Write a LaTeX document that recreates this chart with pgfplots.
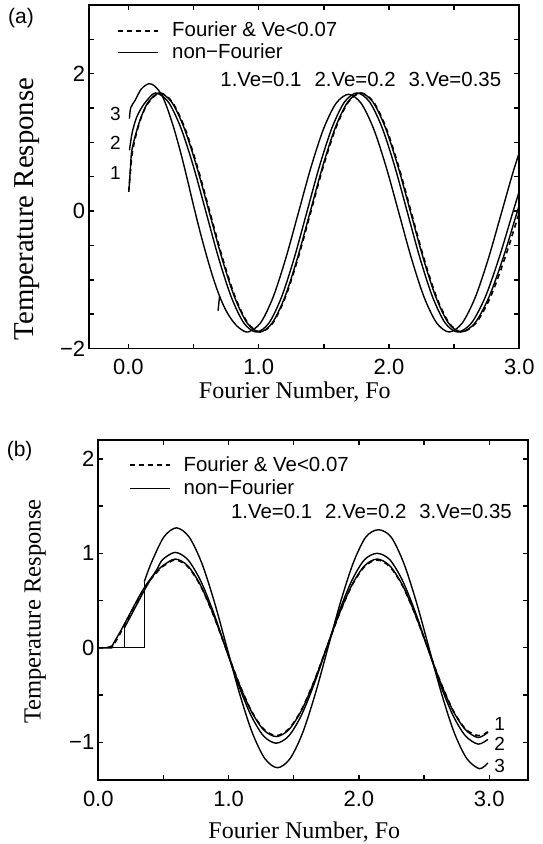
\documentclass[border=0pt]{standalone}
\usepackage{fontspec}
\setmainfont{Liberation Serif}
\setsansfont{Liberation Sans}
\usepackage{pgfplots}
\pgfplotsset{compat=1.18}

\newcommand{\tickfont}{\sffamily\fontsize{11}{13}\selectfont}
\newcommand{\legfont}{\sffamily\fontsize{10.2}{12}\selectfont}
\newcommand{\numfont}{\sffamily\fontsize{9.5}{11}\selectfont}

\pgfplotsset{
  panel/.style={
    scale only axis, width=215pt,
    tick align=inside, major tick length=2.5pt, minor tick length=2.5pt,
    axis line style={line width=0.9pt},
    every tick/.style={black, line width=0.7pt},
    ticklabel style={font=\tickfont},
    xtick={0,1,2,3}, xticklabels={0.0,1.0,2.0,3.0},
    minor xtick={0.5,1.5,2.5},
    legend cell align=left,
    legend image code/.code={\draw[#1] (0pt,0pt) -- (20pt,0pt);},
    legend style={draw=none, fill=none, font=\legfont, inner sep=0pt,
      column sep=6pt, nodes={inner sep=0.6pt}},
    xlabel={Fourier Number, Fo}, ylabel={Temperature Response},
  },
  fou/.style={black, line width=0.8pt, dash pattern=on 2.5pt off 2pt, smooth},
  nf/.style={black, line width=0.7pt, smooth},
}

\begin{document}
\begin{tikzpicture}
\path[use as bounding box] (0,0) rectangle (271pt,-422pt);
\node[font=\sffamily\fontsize{10.5}{12}\selectfont] at (10.5pt,-9pt) {(a)};
\node[font=\sffamily\fontsize{10.5}{12}\selectfont] at (9.8pt,-225.5pt) {(b)};

% ---------- (a) ----------
\begin{axis}[panel,
  at={(44.65pt,-174.25pt)}, anchor=south west, height=171.75pt,
  xmin=-0.3, xmax=3, ymin=-2, ymax=3,
  ytick={-2,0,2}, yticklabels={−2,0,2},
  minor ytick={-1.5,-1,-0.5,0.5,1,1.5,2.5},
  xticklabel style={yshift=-2pt},
  yticklabel style={xshift=1.5pt},
  xlabel style={font=\fontsize{12}{14}\selectfont, at={(axis description cs:0.478,-0.128)}, anchor=center},
  ylabel style={font=\fontsize{14.4}{16}\selectfont, at={(axis description cs:-0.145,0.406)}, anchor=center},
  legend style={at={(axis description cs:0.0644,0.955)}, anchor=north west, row sep=0.8pt},
]
\addplot[fou] coordinates {
(0.003,0.28) (0.01,0.45) (0.03,0.85) (0.064,1.15) (0.10,1.37) (0.15,1.57) (0.24,1.72)
(0.3366,1.588) (0.4331,1.210) (0.5297,0.646) (0.6263,-0.020) (0.7228,-0.686) (0.8194,-1.250)
(0.9159,-1.628) (1.0125,-1.760) (1.1091,-1.628) (1.2056,-1.250) (1.3022,-0.686) (1.3988,-0.020)
(1.4953,0.646) (1.5919,1.210) (1.6884,1.588) (1.785,1.720) (1.8816,1.588) (1.9781,1.210)
(2.0747,0.646) (2.1713,-0.020) (2.2678,-0.686) (2.3644,-1.250) (2.4609,-1.628) (2.5575,-1.760)
(2.668,-1.628) (2.779,-1.250) (2.889,-0.686) (3.0,-0.020) (3.11,0.646)
};
\addlegendentry{Fourier \& Ve<0.07}
% Ve = 0.1
\addplot[nf] coordinates {
(0.005,0.33) (0.015,0.6) (0.026,0.88) (0.064,1.17) (0.10,1.38) (0.15,1.58) (0.235,1.72)
(0.3316,1.588) (0.4281,1.210) (0.5247,0.646) (0.6213,-0.020) (0.7178,-0.686) (0.8144,-1.250)
(0.9109,-1.628) (1.0075,-1.760) (1.1041,-1.628) (1.2006,-1.250) (1.2972,-0.686) (1.3938,-0.020)
(1.4903,0.646) (1.5869,1.210) (1.6834,1.588) (1.7800,1.720) (1.8766,1.588) (1.9731,1.210)
(2.0697,0.646) (2.1663,-0.020) (2.2628,-0.686) (2.3594,-1.250) (2.4559,-1.628) (2.5525,-1.760)
(2.66,-1.628) (2.7675,-1.250) (2.875,-0.686) (2.9825,-0.020) (3.09,0.646)
};
\addlegendentry{non−Fourier}
% Ve = 0.2
\addplot[nf, forget plot] coordinates {
(0.008,0.885) (0.03,1.15) (0.064,1.37) (0.10,1.50) (0.141,1.61) (0.21,1.72)
(0.3066,1.588) (0.4031,1.210) (0.4997,0.646) (0.5963,-0.020) (0.6928,-0.686) (0.7894,-1.250)
(0.8859,-1.628) (0.9825,-1.760) (1.0791,-1.628) (1.1756,-1.250) (1.2722,-0.686) (1.3688,-0.020)
(1.4653,0.646) (1.5619,1.210) (1.6584,1.588) (1.755,1.720) (1.8516,1.588) (1.9481,1.210)
(2.0447,0.646) (2.1413,-0.020) (2.2378,-0.686) (2.3344,-1.250) (2.4309,-1.628) (2.5275,-1.760)
(2.633,-1.628) (2.739,-1.250) (2.844,-0.686) (2.95,-0.020) (3.056,0.646)
};
% Ve = 0.35
\addplot[nf, forget plot] coordinates {
(0.008,1.346) (0.018,1.506) (0.051,1.61) (0.10,1.78) (0.159,1.855) (0.205,1.815) (0.256,1.69)
(0.30,1.49) (0.35,1.20) (0.40,0.86) (0.45,0.48) (0.50,0.08) (0.55,-0.30) (0.60,-0.65)
(0.65,-0.97) (0.70,-1.24) (0.75,-1.45) (0.80,-1.60) (0.85,-1.70) (0.9175,-1.760)
(1.0141,-1.628) (1.1106,-1.253)
(1.2072,-0.692) (1.3038,-0.030) (1.4003,0.632) (1.4969,1.193) (1.5934,1.568) (1.69,1.700)
(1.7866,1.568) (1.8831,1.193) (1.9797,0.632) (2.0763,-0.030) (2.1728,-0.692) (2.2694,-1.253)
(2.3659,-1.628) (2.4625,-1.760) (2.5625,-1.628) (2.6625,-1.253) (2.7625,-0.692) (2.8625,-0.030)
(2.9625,0.632) (3.0625,1.193)
};
% small kink on the Ve=0.35 curve
\addplot[nf, sharp plot, forget plot] coordinates {(0.700,-1.24) (0.688,-1.45)};
\node[anchor=west, inner sep=0pt, font=\legfont] at (axis description cs:0.304,0.7846)
  {1.Ve=0.1\hspace{6.5pt}2.Ve=0.2\hspace{6.5pt}3.Ve=0.35};
\node[font=\numfont] at (axis cs:-0.10,1.42) {3};
\node[font=\numfont] at (axis cs:-0.10,0.99) {2};
\node[font=\numfont] at (axis cs:-0.10,0.56) {1};
\end{axis}

% ---------- (b) ----------
\begin{axis}[panel,
  at={(49.15pt,-390pt)}, anchor=south west, height=170pt,
  xmin=0, xmax=3.3, ymin=-1.4, ymax=2.2,
  ytick={-1,0,1,2}, yticklabels={−1,0,1,2},
  minor ytick={-0.5,0.5,1.5},
  xticklabel style={yshift=-2pt},
  yticklabel style={xshift=1.5pt},
  xlabel style={font=\fontsize{12}{14}\selectfont, at={(axis description cs:0.479,-0.152)}, anchor=center},
  ylabel style={font=\fontsize{12.3}{14}\selectfont, at={(axis description cs:-0.147,0.495)}, anchor=center},
  legend style={at={(axis description cs:0.0702,0.957)}, anchor=north west, row sep=1.5pt},
]
\addplot[fou] coordinates {
(0,0) (0.06,0) (0.09,0.01) (0.12,0.04) (0.16,0.13) (0.2,0.24) (0.25,0.37) (0.3,0.50)
(0.35,0.62) (0.4,0.72) (0.45,0.80) (0.4931,0.859) (0.59,0.93)
(0.6869,0.859) (0.7838,0.658) (0.8806,0.356) (0.9775,0) (1.0744,-0.356) (1.1713,-0.658)
(1.2681,-0.859) (1.365,-0.93) (1.4619,-0.859) (1.5588,-0.658) (1.6556,-0.356) (1.7525,0)
(1.8494,0.356) (1.9463,0.658) (2.0431,0.859) (2.14,0.93) (2.2369,0.859) (2.3338,0.658)
(2.4306,0.356) (2.5275,0) (2.6244,-0.356) (2.7213,-0.658) (2.8181,-0.859) (2.915,-0.93)
(2.99,-0.89)
};
\addlegendentry{Fourier \& Ve<0.07}
% Ve = 0.1
\addplot[nf] coordinates {
(0,0) (0.105,0) (0.11,0.03) (0.16,0.15) (0.2,0.25) (0.25,0.38) (0.3,0.51)
(0.35,0.63) (0.4,0.73) (0.45,0.81) (0.4931,0.868) (0.59,0.94)
(0.6869,0.868) (0.7838,0.665) (0.8806,0.360) (0.9775,0) (1.0744,-0.360) (1.1713,-0.665)
(1.2681,-0.868) (1.365,-0.94) (1.4619,-0.868) (1.5588,-0.665) (1.6556,-0.360) (1.7525,0)
(1.8494,0.360) (1.9463,0.665) (2.0431,0.868) (2.14,0.94) (2.2369,0.868) (2.3338,0.665)
(2.4306,0.360) (2.5275,0) (2.6244,-0.360) (2.7213,-0.665) (2.8181,-0.868) (2.915,-0.95)
(2.99,-0.895)
};
\addlegendentry{non−Fourier}
% Ve = 0.2
\addplot[nf, sharp plot, forget plot] coordinates {(0,0) (0.2,0) (0.2,0.21)};
\addplot[nf, forget plot] coordinates {
(0.2,0.21) (0.25,0.34) (0.3,0.47) (0.35,0.60) (0.4,0.72) (0.45,0.83) (0.4931,0.933) (0.59,1.01)
(0.6869,0.933) (0.7838,0.714) (0.8806,0.387) (0.9775,0) (1.0744,-0.387) (1.1713,-0.714)
(1.2681,-0.933) (1.365,-1.01) (1.4619,-0.933) (1.5588,-0.714) (1.6556,-0.387) (1.7525,0)
(1.8494,0.387) (1.9463,0.714) (2.0431,0.933) (2.14,1.0) (2.2369,0.933) (2.3338,0.714)
(2.4306,0.387) (2.5275,0) (2.6244,-0.387) (2.7213,-0.714) (2.8181,-0.933) (2.915,-1.02)
(2.99,-0.97)
};
% Ve = 0.35
\addplot[nf, sharp plot, forget plot] coordinates {(0,0) (0.353,0) (0.353,0.70)};
\addplot[nf, forget plot] coordinates {
(0.353,0.70) (0.4063,0.898) (0.5031,1.173) (0.60,1.27)
(0.6969,1.173) (0.7938,0.898) (0.8906,0.486) (0.9875,0) (1.0844,-0.486) (1.1813,-0.898)
(1.2781,-1.173) (1.375,-1.27) (1.4719,-1.173) (1.5688,-0.898) (1.6656,-0.486) (1.7625,0)
(1.8594,0.486) (1.9563,0.898) (2.0531,1.173) (2.15,1.25) (2.2469,1.173) (2.3438,0.898)
(2.4406,0.486) (2.5375,0) (2.6344,-0.486) (2.7313,-0.898) (2.8281,-1.173) (2.925,-1.28)
(2.99,-1.22)
};
\node[anchor=west, inner sep=0pt, font=\legfont] at (axis description cs:0.308,0.789)
  {1.Ve=0.1\hspace{6.5pt}2.Ve=0.2\hspace{6.5pt}3.Ve=0.35};
\node[font=\numfont] at (axis cs:3.08,-0.81) {1};
\node[font=\numfont] at (axis cs:3.08,-1.02) {2};
\node[font=\numfont] at (axis cs:3.08,-1.25) {3};
\end{axis}
\end{tikzpicture}
\end{document}
